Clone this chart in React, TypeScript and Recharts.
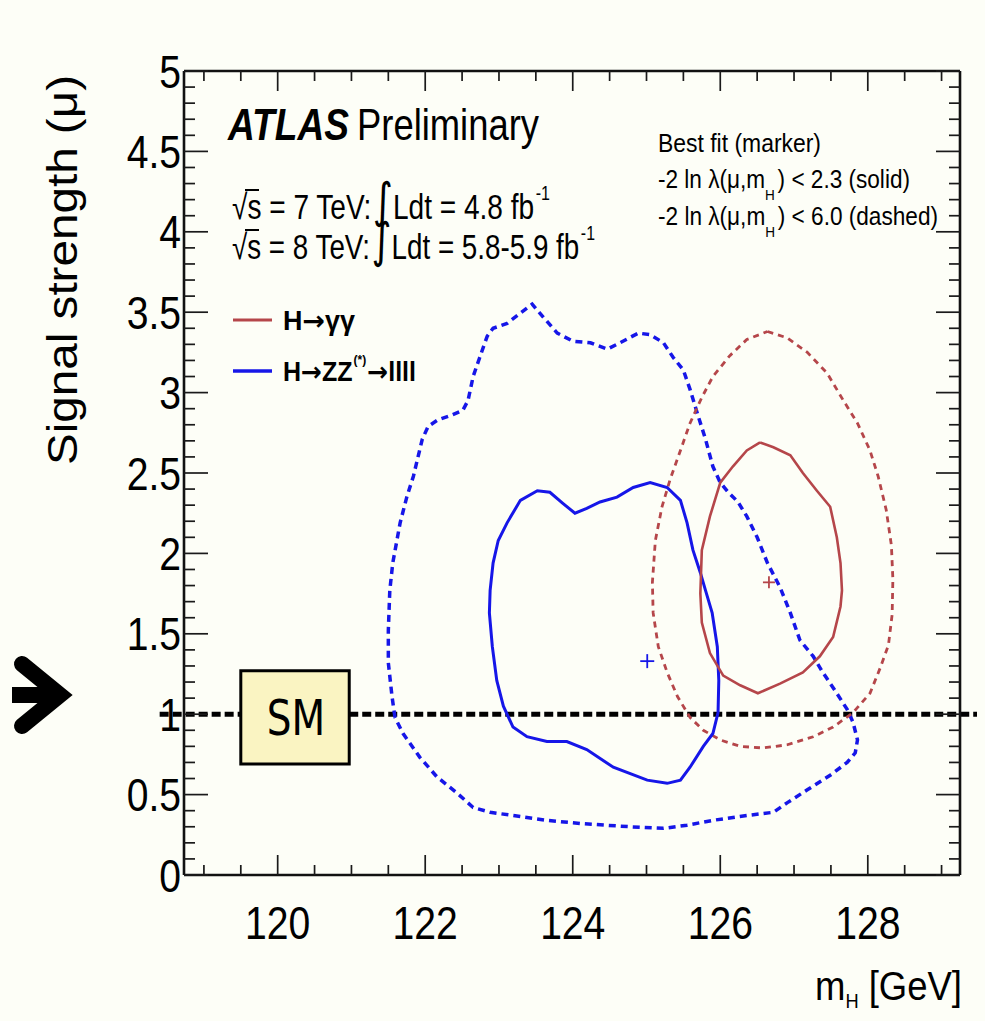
import React, { useEffect } from 'react';
import { ScatterChart, Scatter, XAxis, YAxis, ReferenceLine, ReferenceArea } from 'recharts';

const W = 969;
const H = 1004;
const BG = '#FDFEF7';
const BLUE = '#1616E8';
const RED = '#B5464A';
const FONT = '"Liberation Sans", Arial, Helvetica, sans-serif';
const SYM_FONT = '"DejaVu Sans", sans-serif';
const SM_FONT = '"DejaVu Sans", "Open Sans", sans-serif';

// axes
const X_DOMAIN: [number, number] = [118.73, 129.25];
const Y_DOMAIN: [number, number] = [0, 5];
const X_LABELS = [120, 122, 124, 126, 128];
const Y_LABELS = [0, 0.5, 1, 1.5, 2, 2.5, 3, 3.5, 4, 4.5, 5];
const X_TICKS: number[] = [];
for (let i = 0; i <= 20; i++) X_TICKS.push(119 + i * 0.5);
const Y_TICKS: number[] = [];
for (let i = 0; i <= 50; i++) Y_TICKS.push(i / 10);

// SM reference
const SM_MU = 1;
const SM_LINE_X = [118.4, 129.59];
const SM_BOX_X = [119.5, 120.97];
const SM_BOX_Y = [0.69, 1.27];

// best fit markers
const ZZ_BEST = [{ x: 125.01, y: 1.33 }];
const GG_BEST = [{ x: 126.66, y: 1.82 }];

// H->ZZ->4l, -2 ln lambda < 6.0 (dashed)
const ZZ_60: [number, number][] = [
  [121.59, 0.98], [121.55, 1.11], [121.5, 1.32], [121.5, 1.52], [121.52, 1.77], [121.56, 1.94],
  [121.66, 2.19], [121.75, 2.35], [121.84, 2.48], [121.96, 2.71], [122.04, 2.79], [122.17, 2.83],
  [122.36, 2.86], [122.51, 2.89], [122.58, 2.95], [122.65, 3.1], [122.74, 3.22], [122.84, 3.35],
  [122.92, 3.4], [123.11, 3.43], [123.25, 3.48], [123.45, 3.55], [123.6, 3.47], [123.79, 3.37],
  [124.0, 3.32], [124.24, 3.31], [124.47, 3.27], [124.64, 3.31], [124.89, 3.37], [125.05, 3.36],
  [125.23, 3.31], [125.36, 3.22], [125.5, 3.14], [125.59, 3.02], [125.69, 2.87], [125.8, 2.71],
  [125.9, 2.54], [126.0, 2.44], [126.11, 2.38], [126.24, 2.32], [126.36, 2.23], [126.5, 2.1],
  [126.64, 1.94], [126.81, 1.79], [126.95, 1.63], [127.08, 1.46], [127.26, 1.36], [127.39, 1.26],
  [127.58, 1.13], [127.72, 1.03], [127.8, 0.95], [127.86, 0.84], [127.83, 0.76], [127.72, 0.7],
  [127.49, 0.62], [127.18, 0.53], [126.91, 0.45], [126.72, 0.39], [126.36, 0.37], [125.9, 0.34],
  [125.55, 0.31], [125.23, 0.29], [124.78, 0.3], [124.1, 0.32], [123.65, 0.34], [123.19, 0.37],
  [122.88, 0.39], [122.65, 0.42], [122.43, 0.51], [122.16, 0.61], [121.93, 0.73], [121.7, 0.88],
];

// H->ZZ->4l, -2 ln lambda < 2.3 (solid)
const ZZ_23: [number, number][] = [
  [122.88, 1.77], [122.92, 1.94], [122.99, 2.08], [123.11, 2.19], [123.29, 2.33], [123.52, 2.39],
  [123.69, 2.38], [123.87, 2.31], [124.03, 2.25], [124.19, 2.28], [124.37, 2.32], [124.6, 2.35],
  [124.82, 2.41], [125.05, 2.44], [125.28, 2.41], [125.46, 2.33], [125.55, 2.19], [125.63, 2.02],
  [125.73, 1.88], [125.8, 1.77], [125.89, 1.63], [125.96, 1.42], [125.98, 1.21], [125.97, 1.01],
  [125.9, 0.88], [125.77, 0.8], [125.59, 0.67], [125.46, 0.59], [125.28, 0.57], [125.01, 0.59],
  [124.55, 0.67], [124.19, 0.78], [123.92, 0.83], [123.65, 0.83], [123.38, 0.86], [123.19, 0.92],
  [123.06, 1.05], [122.97, 1.21], [122.91, 1.42], [122.87, 1.63],
];

// H->gamma gamma, -2 ln lambda < 2.3 (solid)
const GG_23: [number, number][] = [
  [126.54, 2.69], [126.72, 2.66], [126.95, 2.61], [127.12, 2.5], [127.31, 2.39], [127.49, 2.29],
  [127.58, 2.1], [127.63, 1.94], [127.65, 1.77], [127.63, 1.67], [127.53, 1.48], [127.35, 1.36],
  [127.12, 1.26], [126.81, 1.19], [126.51, 1.13], [126.27, 1.18], [126.04, 1.24], [125.86, 1.38],
  [125.75, 1.57], [125.73, 1.75], [125.75, 2.02], [125.86, 2.23], [126.0, 2.44], [126.17, 2.54],
  [126.36, 2.64],
];

// H->gamma gamma, -2 ln lambda < 6.0 (dashed)
const GG_60: [number, number][] = [
  [126.64, 3.38], [126.91, 3.34], [127.18, 3.25], [127.45, 3.12], [127.67, 2.95], [127.86, 2.81],
  [128.03, 2.64], [128.14, 2.48], [128.25, 2.27], [128.32, 2.05], [128.34, 1.84], [128.33, 1.62],
  [128.28, 1.43], [128.17, 1.29], [128.03, 1.13], [127.8, 1.01], [127.53, 0.92], [127.26, 0.86],
  [126.91, 0.81], [126.58, 0.79], [126.27, 0.8], [126.0, 0.84], [125.77, 0.9], [125.59, 0.98],
  [125.42, 1.11], [125.28, 1.26], [125.16, 1.42], [125.09, 1.63], [125.08, 1.82], [125.12, 2.08],
  [125.21, 2.29], [125.32, 2.46], [125.46, 2.64], [125.59, 2.81], [125.75, 2.97], [125.9, 3.1],
  [126.13, 3.23], [126.36, 3.33],
];

const closed = (pts: [number, number][]) => {
  const arr = pts.map(([x, y]) => ({ x, y }));
  arr.push({ ...arr[0] });
  return arr;
};

const near = (a: number, b: number) => Math.abs(a - b) < 1e-6;
const isMajorX = (v: number) => X_LABELS.some((l) => near(l, v));
const isMajorY = (v: number) => Y_LABELS.some((l) => near(l, v));
const fmtY = (v: number) => String(Math.round(v * 10) / 10);

const TICK_W = 1.7;
const TICK_C = '#1a1a1a';
const AXIS_LINE = { stroke: '#111', strokeWidth: 2.6 };

const BottomTick = (p: any) => {
  const { x, y, payload } = p;
  const v = payload.value;
  const major = isMajorX(v);
  return (
    <g>
      <line x1={x} x2={x} y1={y} y2={y - (major ? 20 : 10)} stroke={TICK_C} strokeWidth={TICK_W} />
      {major && (
        <text transform={`translate(${x},${y + 64}) scale(0.85,1)`} textAnchor="middle" fontSize={46} fontFamily={FONT} fill="#000">
          {v}
        </text>
      )}
    </g>
  );
};

const TopTick = (p: any) => {
  const { x, y, payload } = p;
  const major = isMajorX(payload.value);
  return <line x1={x} x2={x} y1={y} y2={y + (major ? 20 : 10)} stroke={TICK_C} strokeWidth={TICK_W} />;
};

const LeftTick = (p: any) => {
  const { x, y, payload } = p;
  const v = payload.value;
  const major = isMajorY(v);
  return (
    <g>
      <line x1={x} x2={x + (major ? 24 : 11)} y1={y} y2={y} stroke={TICK_C} strokeWidth={TICK_W} />
      {major && (
        <text transform={`translate(${x - 3},${y + 16.5}) scale(0.85,1)`} textAnchor="end" fontSize={46} fontFamily={FONT} fill="#000">
          {fmtY(v)}
        </text>
      )}
    </g>
  );
};

const RightTick = (p: any) => {
  const { x, y, payload } = p;
  const major = isMajorY(payload.value);
  return <line x1={x} x2={x - (major ? 24 : 11)} y1={y} y2={y} stroke={TICK_C} strokeWidth={TICK_W} />;
};

const NoShape = () => <g />;

const Plus = (color: string, half: number) => (p: any) => {
  const { cx, cy } = p;
  return (
    <g>
      <line x1={cx - half} x2={cx + half} y1={cy} y2={cy} stroke={color} strokeWidth={1.8} />
      <line x1={cx} x2={cx} y1={cy - half} y2={cy + half} stroke={color} strokeWidth={1.8} />
    </g>
  );
};

const SMLabel = (p: any) => {
  const vb = p.viewBox || { x: 0, y: 0, width: 0, height: 0 };
  const cx = vb.x + vb.width / 2;
  const cy = vb.y + vb.height / 2;
  return (
    <text transform={`translate(${cx + 1},${cy + 18}) scale(0.78,1)`} textAnchor="middle" fontSize={50} fontFamily={SM_FONT} fill="#000">
      SM
    </text>
  );
};

const T = (p: any) => {
  const { x, y, size, len, weight, italic, anchor, fill, family, children } = p;
  return (
    <text
      x={x}
      y={y}
      fontSize={size}
      fontWeight={weight || 'normal'}
      fontStyle={italic ? 'italic' : 'normal'}
      textAnchor={anchor || 'start'}
      fill={fill || '#000'}
      fontFamily={family || FONT}
      textLength={len}
      lengthAdjust={len ? 'spacingAndGlyphs' : undefined}
    >
      {children}
    </text>
  );
};

const Arrow = () => <tspan fontFamily={SYM_FONT}>→</tspan>;

const LumiLine = ({ y, energy, lumi, len }: { y: number; energy: string; lumi: string; len: number }) => (
  <T x={224} y={y} size={35} len={len}>
    {`√s = ${energy} TeV:`}
    <tspan dx={2} dy={-2} fontFamily={SYM_FONT} fontSize={48}>∫</tspan>
    <tspan dy={2}>{`Ldt = ${lumi} fb`}</tspan>
    <tspan dx={2} dy={-19} fontSize={20}>-1</tspan>
  </T>
);

const LikelihoodLine = ({ y, cut, label, len }: { y: number; cut: string; label: string; len: number }) => (
  <T x={650} y={y} size={25} len={len}>
    -2 ln λ(μ,m
    <tspan dy={12} fontSize={15}>H</tspan>
    <tspan dx={3} dy={-12}>{`) < ${cut} (${label})`}</tspan>
  </T>
);

const Annotations = () => (
  <g>
    {/* arrow pointing at the SM line */}
    <path d="M 4 687 L 46 687" stroke="#000" strokeWidth={16} fill="none" />
    <path d="M 14 656 L 52 687 L 14 718" stroke="#000" strokeWidth={16} fill="none" strokeLinecap="round" strokeLinejoin="miter" />

    {/* ATLAS label */}
    <T x={220} y={132} size={44} len={121} weight="bold" italic>ATLAS</T>
    <T x={349} y={132} size={44} len={182}>Preliminary</T>

    <LumiLine y={211} energy="7" lumi="4.8" len={318} />
    <line x1={237} x2={251} y1={182} y2={182} stroke="#000" strokeWidth={2} />
    <LumiLine y={251} energy="8" lumi="5.8-5.9" len={363} />
    <line x1={237} x2={251} y1={222} y2={222} stroke="#000" strokeWidth={2} />

    {/* legend */}
    <line x1={225} x2={264} y1={312} y2={312} stroke={RED} strokeWidth={3} />
    <text x={275} y={322} fontSize={27} fontWeight="bold" fontFamily={FONT} fill="#000" textLength={72} lengthAdjust="spacingAndGlyphs">
      H<Arrow />γγ
    </text>
    <line x1={225} x2={264} y1={363} y2={363} stroke={BLUE} strokeWidth={3.5} />
    <text x={275} y={373} fontSize={27} fontWeight="bold" fontFamily={FONT} fill="#000" textLength={133} lengthAdjust="spacingAndGlyphs">
      H<Arrow />ZZ
      <tspan dx={1} dy={-17} fontSize={13}>(*)</tspan>
      <tspan dx={1} dy={17}>
        <Arrow />llll
      </tspan>
    </text>

    {/* top right */}
    <T x={650} y={144} size={25} len={163}>Best fit (marker)</T>
    <LikelihoodLine y={180} cut="2.3" label="solid" len={252} />
    <LikelihoodLine y={217} cut="6.0" label="dashed" len={280} />

    {/* axis titles */}
    <text
      transform="translate(69,262) rotate(-90)"
      textAnchor="middle"
      fontSize={42}
      fontFamily={FONT}
      fill="#000"
      textLength={390}
      lengthAdjust="spacingAndGlyphs"
    >
      Signal strength (μ)
    </text>
    <T x={807} y={992} size={40} len={147}>
      m
      <tspan dy={8} fontSize={20}>H</tspan>
      <tspan dy={-8}> [GeV]</tspan>
    </T>
  </g>
);

export default function App() {
  useEffect(() => {
    document.body.style.background = BG;
  }, []);
  return (
    <div style={{ width: W, height: H, background: BG }}>
      <ScatterChart width={W} height={H} margin={{ top: 62, right: 16, bottom: 136, left: 175 }}>
        <XAxis
          dataKey="x"
          type="number"
          domain={X_DOMAIN}
          allowDataOverflow
          ticks={X_TICKS}
          interval={0}
          tick={BottomTick}
          tickLine={false}
          tickSize={0}
          tickMargin={0}
          height={1}
          axisLine={AXIS_LINE}
        />
        <XAxis
          xAxisId="top"
          orientation="top"
          dataKey="x"
          type="number"
          domain={X_DOMAIN}
          allowDataOverflow
          ticks={X_TICKS}
          interval={0}
          tick={TopTick}
          tickLine={false}
          tickSize={0}
          tickMargin={0}
          height={1}
          axisLine={AXIS_LINE}
        />
        <YAxis
          dataKey="y"
          type="number"
          domain={Y_DOMAIN}
          allowDataOverflow
          ticks={Y_TICKS}
          interval={0}
          tick={LeftTick}
          tickLine={false}
          tickSize={0}
          tickMargin={0}
          width={1}
          axisLine={AXIS_LINE}
        />
        <YAxis
          yAxisId="right"
          orientation="right"
          dataKey="y"
          type="number"
          domain={Y_DOMAIN}
          allowDataOverflow
          ticks={Y_TICKS}
          interval={0}
          tick={RightTick}
          tickLine={false}
          tickSize={0}
          tickMargin={0}
          width={1}
          axisLine={AXIS_LINE}
        />

        <Scatter
          name="ZZ 6.0"
          data={closed(ZZ_60)}
          fill={BLUE}
          shape={NoShape}
          line={{ stroke: BLUE, strokeWidth: 3.5, strokeDasharray: '7 5', fill: 'none' }}
          lineType="joint"
          lineJointType="linear"
          isAnimationActive={false}
        />
        <Scatter
          name="GG 6.0"
          data={closed(GG_60)}
          fill={RED}
          shape={NoShape}
          line={{ stroke: RED, strokeWidth: 2.8, strokeDasharray: '6 5', fill: 'none' }}
          lineType="joint"
          lineJointType="linear"
          isAnimationActive={false}
        />
        <Scatter
          name="ZZ 2.3"
          data={closed(ZZ_23)}
          fill={BLUE}
          shape={NoShape}
          line={{ stroke: BLUE, strokeWidth: 3, fill: 'none' }}
          lineType="joint"
          lineJointType="linear"
          isAnimationActive={false}
        />
        <Scatter
          name="GG 2.3"
          data={closed(GG_23)}
          fill={RED}
          shape={NoShape}
          line={{ stroke: RED, strokeWidth: 2.6, fill: 'none' }}
          lineType="joint"
          lineJointType="linear"
          isAnimationActive={false}
        />
        <Scatter name="ZZ best" data={ZZ_BEST} fill={BLUE} shape={Plus(BLUE, 7)} isAnimationActive={false} />
        <Scatter name="GG best" data={GG_BEST} fill={RED} shape={Plus(RED, 6)} isAnimationActive={false} />

        <ReferenceLine
          segment={[{ x: SM_LINE_X[0], y: SM_MU }, { x: SM_BOX_X[0], y: SM_MU }]}
          stroke="#000"
          strokeWidth={5}
          strokeDasharray="9 4"
          ifOverflow="visible"
        />
        <ReferenceLine
          segment={[{ x: SM_BOX_X[1], y: SM_MU }, { x: SM_LINE_X[1], y: SM_MU }]}
          stroke="#000"
          strokeWidth={5}
          strokeDasharray="9 4"
          ifOverflow="visible"
        />
        <ReferenceArea
          x1={SM_BOX_X[0]}
          x2={SM_BOX_X[1]}
          y1={SM_BOX_Y[0]}
          y2={SM_BOX_Y[1]}
          fill="#FAF4C2"
          fillOpacity={1}
          stroke="#000"
          strokeWidth={3}
          ifOverflow="visible"
          label={<SMLabel />}
        />
        <Annotations />
      </ScatterChart>
    </div>
  );
}
